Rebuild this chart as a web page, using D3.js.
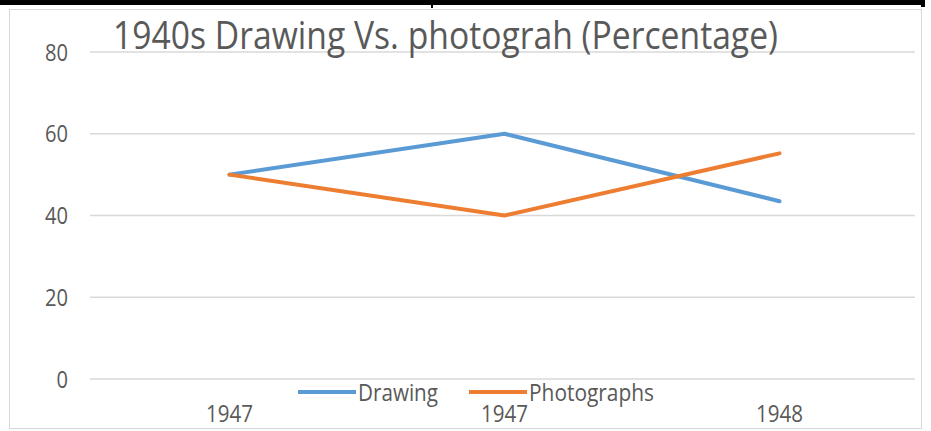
<!DOCTYPE html>
<html>
<head>
<meta charset="utf-8">
<script src="https://cdn.jsdelivr.net/npm/d3@7"></script>
<style>
  body { margin: 0; background: #fff; }
  text { font-family: "Liberation Sans Narrow", "Open Sans", sans-serif; }
</style>
</head>
<body>
<div id="chart"></div>
<script>
// data
const categories = ["1947a", "1947b", "1948"];
const tickLabels = ["1947", "1947", "1948"];
const drawing = [50, 60, 43.5];
const photographs = [50, 40, 55.2];
const yTicks = [0, 20, 40, 60, 80];
const seriesNames = ["Drawing", "Photographs"];
const colors = ["#5b9bd5", "#ed7d31"];

const W = 931, H = 431;
const svg = d3.select("#chart").append("svg")
    .attr("width", W).attr("height", H);

// black frame bits at the top (cropped table border)
svg.append("rect").attr("x", 0).attr("y", 0).attr("width", 925).attr("height", 5).attr("fill", "#000");
svg.append("rect").attr("x", 921).attr("y", 0).attr("width", 4).attr("height", 7).attr("fill", "#000");
svg.append("rect").attr("x", 431).attr("y", 0).attr("width", 2).attr("height", 8).attr("fill", "#000");

// chart area border
svg.append("rect")
    .attr("x", 9.5).attr("y", 9.5).attr("width", 912).attr("height", 419)
    .attr("fill", "none").attr("stroke", "#d9d9d9");

// scales
const x = d3.scalePoint().domain(categories).range([92, 917]).padding(0.5);
const y = d3.scaleLinear().domain([0, 80]).range([379, 52]);

// gridlines
svg.append("g").selectAll("line")
    .data(yTicks)
    .enter().append("line")
    .attr("x1", 90).attr("x2", 915)
    .attr("y1", d => y(d)).attr("y2", d => y(d))
    .attr("stroke", "#d9d9d9").attr("stroke-width", 1.5);

// y axis labels
svg.append("g").selectAll("text")
    .data(yTicks)
    .enter().append("text")
    .attr("x", 68).attr("y", d => y(d) + 8.5)
    .attr("text-anchor", "end")
    .attr("font-size", 24)
    .attr("fill", "#595959")
    .attr("textLength", d => String(d).length * 11.5)
    .attr("lengthAdjust", "spacingAndGlyphs")
    .text(d => d);

// x axis labels
svg.append("g").selectAll("text")
    .data(categories)
    .enter().append("text")
    .attr("x", d => x(d)).attr("y", 422)
    .attr("text-anchor", "middle")
    .attr("font-size", 24)
    .attr("fill", "#595959")
    .attr("textLength", 47)
    .attr("lengthAdjust", "spacingAndGlyphs")
    .text((d, i) => tickLabels[i]);

// title
svg.append("text")
    .attr("x", 113).attr("y", 49)
    .attr("font-size", 38)
    .attr("fill", "#595959")
    .attr("textLength", 665)
    .attr("lengthAdjust", "spacingAndGlyphs")
    .text("1940s Drawing Vs. photograh (Percentage)");

// lines
const line = d3.line()
    .x((d, i) => x(categories[i]))
    .y(d => y(d));

[drawing, photographs].forEach((s, i) => {
    svg.append("path")
        .datum(s)
        .attr("d", line)
        .attr("fill", "none")
        .attr("stroke", colors[i])
        .attr("stroke-width", 4)
        .attr("stroke-linejoin", "round")
        .attr("stroke-linecap", "round");
});

// legend
const legendX = [298, 469];
const legendW = [80, 125];
const legend = svg.append("g");
seriesNames.forEach((name, i) => {
    legend.append("line")
        .attr("x1", legendX[i]).attr("x2", legendX[i] + 58)
        .attr("y1", 392).attr("y2", 392)
        .attr("stroke", colors[i]).attr("stroke-width", 4);
    legend.append("text")
        .attr("x", legendX[i] + 60).attr("y", 401)
        .attr("font-size", 23)
        .attr("fill", "#595959")
        .attr("textLength", legendW[i])
        .attr("lengthAdjust", "spacingAndGlyphs")
        .text(name);
});
</script>
</body>
</html>
